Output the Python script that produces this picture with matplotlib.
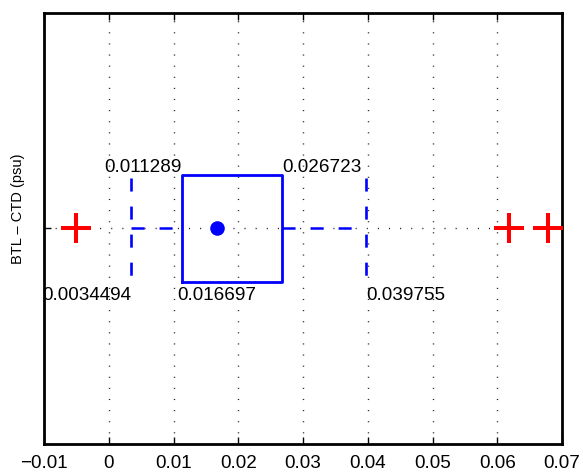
import matplotlib
matplotlib.use("Agg")
import matplotlib.pyplot as plt

# box statistics (psu)
q1 = 0.011289
median = 0.016697
q3 = 0.026723
whisker_lo = 0.0034494
whisker_hi = 0.039755
outliers = [-0.00506, 0.06178, 0.06789]

xticks = [-0.01, 0, 0.01, 0.02, 0.03, 0.04, 0.05, 0.06, 0.07]
xtick_labels = ["\u22120.01", "0", "0.01", "0.02", "0.03", "0.04", "0.05", "0.06", "0.07"]

plt.rcParams['font.family'] = ['Liberation Sans', 'DejaVu Sans']
plt.rcParams['lines.scale_dashes'] = False

fig = plt.figure(figsize=(5.83, 4.72), dpi=100)
ax = fig.add_axes([0.0755, 0.0593, 0.8885, 0.9132])

blue = '#0000ff'
red = '#ff0000'
dash = (0, (9.4, 10.8))

stats = [dict(med=median, q1=q1, q3=q3, whislo=whisker_lo, whishi=whisker_hi, fliers=[])]
art = ax.bxp(stats, positions=[1], widths=0.249, capwidths=0.232,
             orientation='horizontal', showfliers=False,
             boxprops=dict(color=blue, linewidth=2),
             whiskerprops=dict(color=blue, linewidth=1.8, linestyle=dash),
             capprops=dict(color=blue, linewidth=1.9, linestyle=dash),
             medianprops=dict(linestyle='none'))

# MATLAB draws the lower whisker from the cap towards the box
w = art['whiskers'][0]
wx, wy = w.get_data()
w.set_data(wx[::-1], wy[::-1])
for c in art['caps']:
    cx, cy = c.get_data()
    c.set_data(cx[::-1], cy[::-1])

ax.plot([median], [1], 'o', color=blue, ms=10.5, mec='none', zorder=4)
ax.plot(outliers, [1] * len(outliers), '+', color=red, ms=21.5, mew=2.9, zorder=4)

# value labels
top = 1 + 0.249 / 2
bot = 1 - 0.249 / 2
fs = 13.6
ax.annotate(f"{q1:g}", (q1, top), xytext=(0, 2.2), textcoords='offset points',
            ha='right', va='baseline', fontsize=fs)
ax.annotate(f"{q3:g}", (q3, top), xytext=(0, 2.2), textcoords='offset points',
            ha='left', va='baseline', fontsize=fs)
ax.annotate(f"{whisker_lo:g}", (whisker_lo, bot), xytext=(0, -3.6), textcoords='offset points',
            ha='right', va='top', fontsize=fs)
ax.annotate(f"{median:g}", (median, bot), xytext=(0, -3.6), textcoords='offset points',
            ha='center', va='top', fontsize=fs)
ax.annotate(f"{whisker_hi:g}", (whisker_hi, bot), xytext=(0, -3.6), textcoords='offset points',
            ha='left', va='top', fontsize=fs)

ax.set_xlim(-0.01, 0.07)
ax.set_ylim(0.5, 1.5)
ax.set_xticks(xticks)
ax.set_xticklabels(xtick_labels, fontsize=fs)
ax.set_yticks([1])
ax.set_yticklabels([''])

ax.grid(True, color='0.15', linewidth=1.0, linestyle=(0, (0.8, 7.2)))
ax.set_axisbelow(True)
ax.tick_params(direction='in', top=True, right=True, length=5, width=1, pad=8)
for sp in ax.spines.values():
    sp.set_linewidth(2)

ax.set_ylabel("BTL \u2013 CTD (psu)", fontsize=10.5)
ax.yaxis.set_label_coords(-0.036, 0.546)

fig.savefig("out.png", dpi=100)
